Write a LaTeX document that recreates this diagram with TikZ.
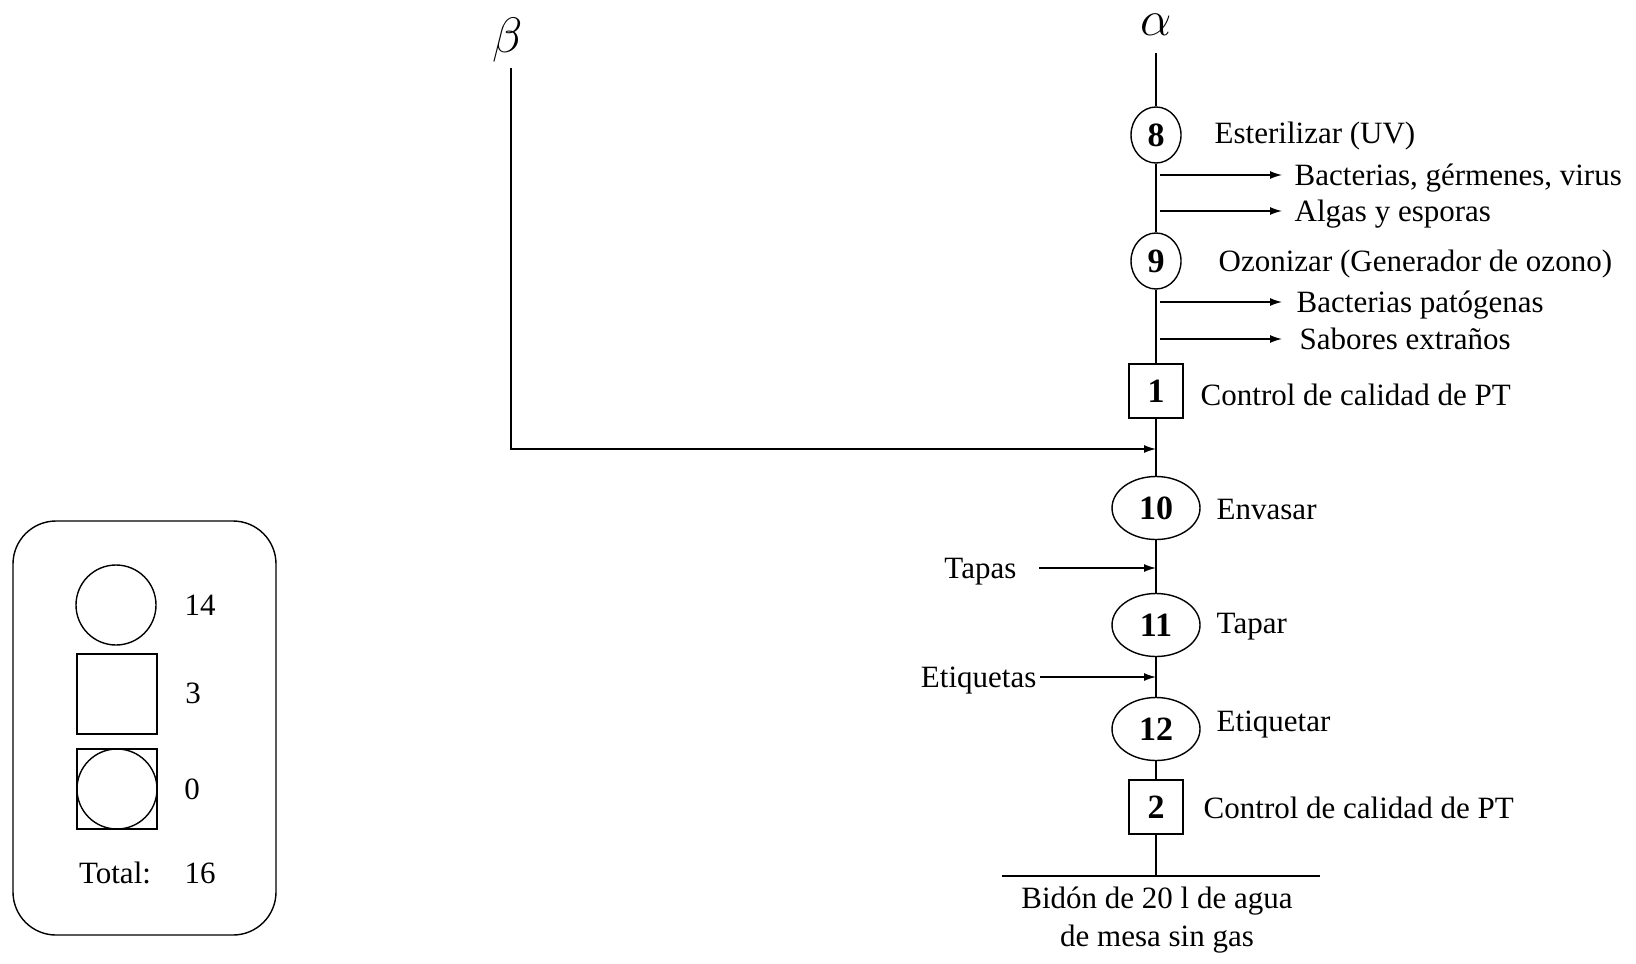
\documentclass[tikz,border=0pt]{standalone}
\usepackage{fontspec}
\setmainfont{Liberation Serif}
\usetikzlibrary{shapes.geometric,arrows.meta}
\begin{document}
\begin{tikzpicture}[x=0.5pt, y=-0.5pt, line width=0.7pt,
    every node/.style={font=\fontsize{15.5}{19}\selectfont},
    op/.style={draw, ellipse, inner sep=0pt, minimum width=25pt, minimum height=28pt, font=\fontsize{17}{19}\selectfont\bfseries},
    opwide/.style={op, minimum width=44pt, minimum height=31.5pt},
    ctrl/.style={draw, rectangle, inner sep=0pt, minimum size=27pt, font=\fontsize{17}{19}\selectfont\bfseries},
    txt/.style={anchor=west, inner sep=0pt, text height=10.5pt, text depth=0pt},
    flow/.style={-{Latex[length=6pt,width=4pt]}},
    greek/.style={inner sep=0pt, font=\fontsize{25}{30}\selectfont},
    sym/.style={draw, inner sep=0pt, minimum size=40pt}]
    \useasboundingbox (0,0) rectangle (1636,963);
    % main line
    \node[greek] (alfa) at (1156,25) {$\alpha$};
    \coordinate (atop) at (1156,53);
    \node[op] (o8) at (1156,135) {8};
    \node[txt] (t8) at (1214,133) {Esterilizar (UV)};
    \node[txt] (s1) at (1294,175) {Bacterias, gérmenes, virus};
    \node[txt] (s2) at (1294,211) {Algas y esporas};
    \node[op] (o9) at (1156,261) {9};
    \node[txt] (t9) at (1218,261) {Ozonizar (Generador de ozono)};
    \node[txt] (s3) at (1296,302) {Bacterias patógenas};
    \node[txt] (s4) at (1299,339) {Sabores extraños};
    \node[ctrl] (c1) at (1156,391) {1};
    \node[txt] (tc1) at (1200,395) {Control de calidad de PT};
    \coordinate (union) at (1156,449);
    \node[opwide] (o10) at (1156,508) {10};
    \node[txt] (t10) at (1216,509) {Envasar};
    \node[txt, anchor=east] (tapas) at (1017,568) {Tapas};
    \coordinate (entt) at (1156,568);
    \node[opwide] (o11) at (1156,625) {11};
    \node[txt] (t11) at (1216,623) {Tapar};
    \node[txt, anchor=east] (etq) at (1037,677) {Etiquetas};
    \coordinate (ente) at (1156,677);
    \node[opwide] (o12) at (1156,729) {12};
    \node[txt] (t12) at (1216,721) {Etiquetar};
    \node[ctrl] (c2) at (1156,807) {2};
    \node[txt] (tc2) at (1203,808) {Control de calidad de PT};
    \coordinate (base) at (1156,876);
    \coordinate (bizq) at (1002,876);
    \coordinate (bder) at (1320,876);
    \node[align=center] (prod) at (1157,920) {Bidón de 20 l de agua\\de mesa sin gas};
    \draw (atop) -- (o8) -- (o9) -- (c1) -- (o10) -- (o11) -- (o12) -- (c2) -- (base);
    \draw (bizq) -- (bder);
    \draw[flow, shorten <=2pt] (o8 |- s1.west) -- ([xshift=-6pt]s1.west);
    \draw[flow, shorten <=2pt] (o8 |- s2.west) -- ([xshift=-6pt]s2.west);
    \draw[flow, shorten <=2pt] (o9 |- s3.west) -- ([xshift=-7pt]s3.west);
    \draw[flow, shorten <=2pt] (o9 |- s4.west) -- ([xshift=-8.5pt]s4.west);
    \draw[flow] ([xshift=11pt]tapas.east) -- (entt);
    \draw[flow] ([xshift=1.5pt]etq.east) -- (ente);
    % beta branch
    \node[greek] (beta) at (508,40) {$\beta$};
    \coordinate (btop) at (511,68);
    \draw[flow] (btop) |- (union);
    % summary
    \draw[rounded corners=21.5pt] (13,521) rectangle (276,935);
    \node[sym, circle] (lop) at (116,605) {};
    \node (nop) at (200,605) {14};
    \node[sym] (lctrl) at (117,694) {};
    \node (nctrl) at (193,693) {3};
    \node[sym] (lcomb) at (117,789) {};
    \node[sym, circle] (lcombc) at (117,789) {};
    \node (ncomb) at (192,789) {0};
    \node (ltot) at (115,873) {Total:};
    \node (ntot) at (200,873) {16};
\end{tikzpicture}
\end{document}
